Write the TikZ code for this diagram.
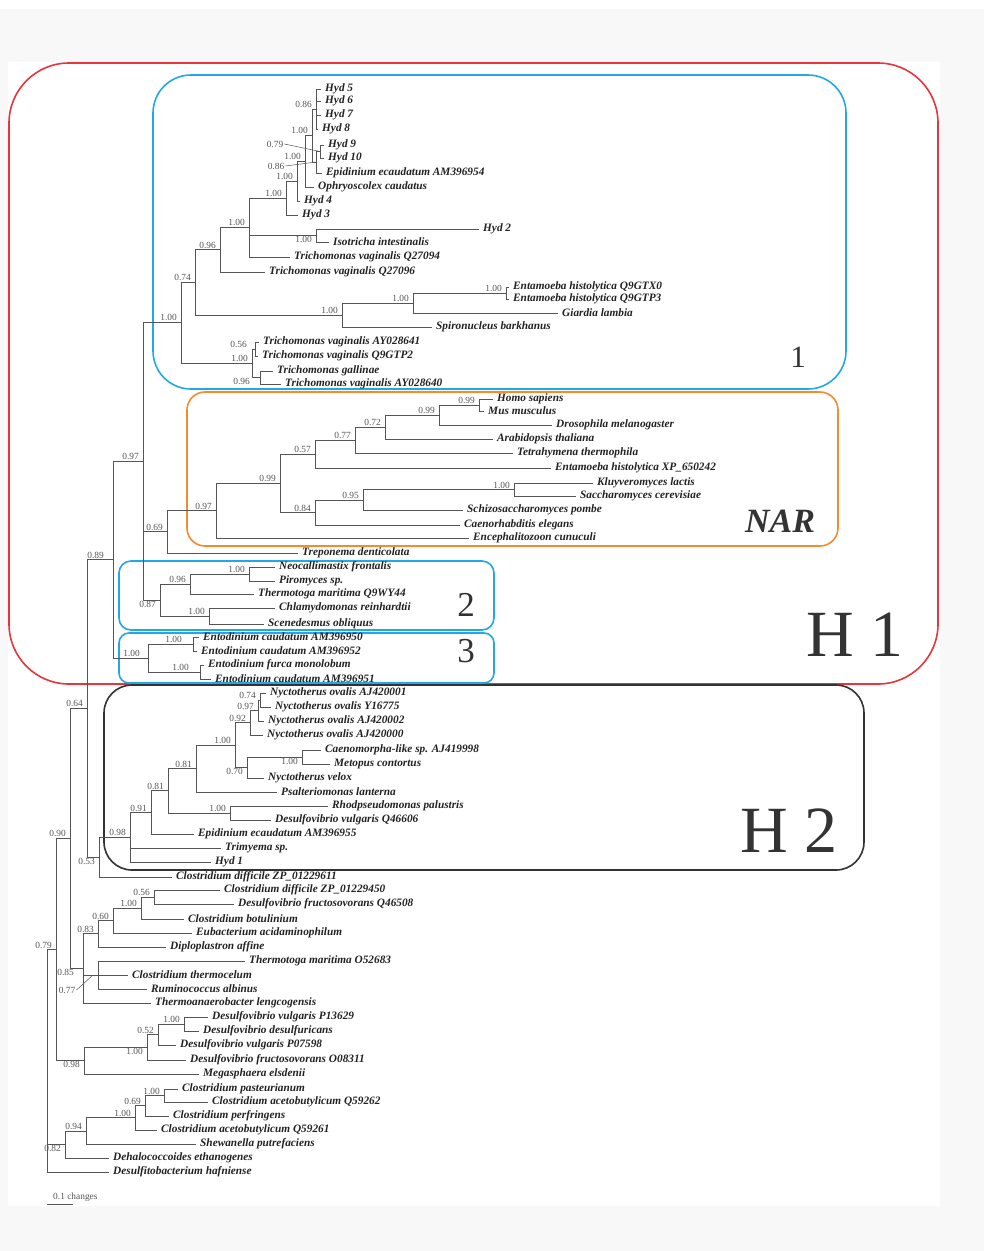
\documentclass[tikz,border=0pt]{standalone}
\usepackage{fontspec}
\setmainfont{Liberation Serif}
\usepackage{xcolor}
\usepackage{tikz}
\usetikzlibrary{positioning}

\definecolor{pagegray}{HTML}{F9F8F8}
\definecolor{branchgray}{HTML}{555555}
\definecolor{leafink}{HTML}{222222}
\definecolor{hred}{HTML}{E8343C}
\definecolor{hblue}{HTML}{22A8E2}
\definecolor{horange}{HTML}{F58A2E}
\definecolor{hdark}{HTML}{333333}

\begin{document}
\begin{tikzpicture}[x=1pt, y=-1pt,
    br/.style={draw=branchgray, line width=1pt},
    leaf/.style={anchor=west, inner xsep=4pt, inner ysep=0pt, text=leafink, font=\fontsize{11.3}{12}\selectfont\bfseries\itshape},
    sup/.style={inner sep=1pt, xshift=-3pt, text=branchgray, font=\fontsize{9.4}{10}\selectfont},
    lead/.style={draw=branchgray, line width=0.5pt},
    clade/.style={line width=1.6pt},
    cladelabel/.style={inner sep=0pt, text=hdark}]

    \useasboundingbox (0,0) rectangle (984,1251);

    % Page
    \fill[white] (0,0) rectangle (984,9);
    \fill[pagegray] (0,9) rectangle (984,1251);
    \fill[white] (8,62) rectangle (940,1206);

    % Clade boxes
    \draw[clade, hred, rounded corners=60pt] (9,63) rectangle (938,684);
    \draw[clade, hblue, rounded corners=38pt] (153,75) rectangle (846,389);
    \draw[clade, horange, rounded corners=18pt] (187,392) rectangle (838,546);
    \draw[clade, hblue, rounded corners=12pt] (119,561) rectangle (494,630);
    \draw[clade, hblue, rounded corners=10pt] (119,633) rectangle (494,683);
    \draw[clade, hdark, rounded corners=28pt] (104,685) rectangle (864,870);

    \node[cladelabel, font=\fontsize{31}{31}\selectfont] (lab1) at (798,357) {1};
    \node[cladelabel, font=\fontsize{34}{34}\selectfont\bfseries\itshape] (labNAR) at (780,521) {NAR};
    \node[cladelabel, font=\fontsize{66}{66}\selectfont] (labH1) at (855,635) {H 1};
    \node[cladelabel, font=\fontsize{35}{35}\selectfont] (lab2) at (466,605) {2};
    \node[cladelabel, font=\fontsize{35}{35}\selectfont] (lab3) at (466,651) {3};
    \node[cladelabel, font=\fontsize{66}{66}\selectfont] (labH2) at (789,831) {H 2};

    % Clade 1
    \node[leaf] (h5) at (321,89) {Hyd 5};
    \node[leaf] (h6) at (321,101) {Hyd 6};
    \node[leaf] (h7) at (321,115) {Hyd 7};
    \node[leaf] (h8) at (318,129) {Hyd 8};
    \node[leaf] (h9) at (324,145) {Hyd 9};
    \node[leaf] (h10) at (324,158) {Hyd 10};
    \node[leaf] (epiA) at (322,173) {Epidinium ecaudatum AM396954};
    \node[leaf] (oph) at (314,187) {Ophryoscolex caudatus};
    \node[leaf] (h4) at (300,201) {Hyd 4};
    \node[leaf] (h3) at (298,215) {Hyd 3};
    \node[leaf] (h2) at (479,229) {Hyd 2};
    \node[leaf] (iso) at (329,242) {Isotricha intestinalis};
    \node[leaf] (tvA) at (290,257) {Trichomonas vaginalis Q27094};
    \node[leaf] (tvB) at (265,272) {Trichomonas vaginalis Q27096};
    \node[leaf] (ehA) at (509,287) {Entamoeba histolytica Q9GTX0};
    \node[leaf] (ehB) at (509,299) {Entamoeba histolytica Q9GTP3};
    \node[leaf] (gia) at (558,313) {Giardia lambia};
    \node[leaf] (spi) at (432,327) {Spironucleus barkhanus};
    \node[leaf] (tvC) at (259,342) {Trichomonas vaginalis AY028641};
    \node[leaf] (tvD) at (258,356) {Trichomonas vaginalis Q9GTP2};
    \node[leaf] (tgal) at (273,371) {Trichomonas gallinae};
    \node[leaf] (tvE) at (281,384) {Trichomonas vaginalis AY028640};

    \coordinate (c58) at (316,109);
    \coordinate (c910) at (320,151.5);
    \coordinate (cEp) at (316,162);
    \coordinate (nA) at (312,135);
    \coordinate (nB) at (305,161);
    \coordinate (nC) at (297,181);
    \coordinate (nD) at (286,198);
    \coordinate (cH2) at (316,235.5);
    \coordinate (nE) at (249,227);
    \coordinate (nF) at (220,249.5);
    \coordinate (cEh) at (506,293);
    \coordinate (nI) at (413,303);
    \coordinate (nH) at (342,315);
    \coordinate (nG) at (195,282);
    \coordinate (nM) at (255,349);
    \coordinate (nN) at (260,377.5);
    \coordinate (nL) at (252,363);
    \coordinate (nK) at (181,322);

    \draw[br] (c58) |- (h5) (c58) |- (h6) (c58) |- (h7) (c58) |- (h8);
    \draw[br] (c910) |- (h9) (c910) |- (h10);
    \draw[br] (cEp) |- (c910) (cEp) |- (epiA);
    \draw[br] (nA) |- (c58) (nA) |- (cEp);
    \draw[br] (nB) |- (nA) (nB) |- (oph);
    \draw[br] (nC) |- (nB) (nC) |- (h4);
    \draw[br] (nD) |- (nC) (nD) |- (h3);
    \draw[br] (cH2) |- (h2) (cH2) |- (iso);
    \draw[br] (nE) |- (nD) (nE) |- (cH2) (nE) |- (tvA);
    \draw[br] (nF) |- (nE) (nF) |- (tvB);
    \draw[br] (cEh) |- (ehA) (cEh) |- (ehB);
    \draw[br] (nI) |- (cEh) (nI) |- (gia);
    \draw[br] (nH) |- (nI) (nH) |- (spi);
    \draw[br] (nG) |- (nF) (nG) |- (nH);
    \draw[br] (nM) |- (tvC) (nM) |- (tvD);
    \draw[br] (nN) |- (tgal) (nN) |- (tvE);
    \draw[br] (nL) |- (nM) (nL) |- (nN);
    \draw[br] (nK) |- (nG) (nK) |- (nL);

    \node[sup, above left] (s58) at (c58) {0.86};
    \node[sup] (s910) at (278,144) {0.79};
    \node[sup] (sEp) at (279,166) {0.86};
    \draw[lead] (s910.east) -- (c910);
    \draw[lead] (sEp.east) -- (cEp);
    \node[sup, above left] (sA) at (nA) {1.00};
    \node[sup, above left] (sB) at (nB) {1.00};
    \node[sup, above left] (sC) at (nC) {1.00};
    \node[sup, above left] (sD) at (nD) {1.00};
    \node[sup, below left] (sH2) at (cH2) {1.00};
    \node[sup, above left] (sE) at (nE) {1.00};
    \node[sup, above left] (sF) at (nF) {0.96};
    \node[sup, above left] (sEh) at (cEh) {1.00};
    \node[sup, above left] (sI) at (nI) {1.00};
    \node[sup, above left] (sH) at (nH) {1.00};
    \node[sup, above left] (sG) at (nG) {0.74};
    \node[sup, above left, xshift=-4pt] (sM) at (nM) {0.56};
    \node[sup, below left, xshift=-6pt] (sN) at (nN) {0.96};
    \node[sup, above left] (sL) at (nL) {1.00};
    \node[sup, above left] (sK) at (nK) {1.00};

    % NAR
    \node[leaf] (homo) at (493,399) {Homo sapiens};
    \node[leaf] (mus) at (484,411) {Mus musculus};
    \node[leaf] (dro) at (552,425) {Drosophila melanogaster};
    \node[leaf] (ara) at (493,439) {Arabidopsis thaliana};
    \node[leaf] (tet) at (513,453) {Tetrahymena thermophila};
    \node[leaf] (ehC) at (551,468) {Entamoeba histolytica XP\_650242};
    \node[leaf] (klu) at (593,483) {Kluyveromyces lactis};
    \node[leaf] (sac) at (576,496) {Saccharomyces cerevisiae};
    \node[leaf] (sch) at (463,510) {Schizosaccharomyces pombe};
    \node[leaf] (cae) at (460,525) {Caenorhabditis elegans};
    \node[leaf] (enc) at (469,538) {Encephalitozoon cunuculi};
    \node[leaf] (tre) at (298,553) {Treponema denticolata};

    \coordinate (cHM) at (479,405);
    \coordinate (cHMD) at (439,415);
    \coordinate (c72) at (385,427);
    \coordinate (c77) at (355,440);
    \coordinate (c57) at (315,454);
    \coordinate (cKS) at (514,489.5);
    \coordinate (c95) at (363,500);
    \coordinate (c84) at (315,512.5);
    \coordinate (c99) at (280,483);
    \coordinate (c97) at (216,510.5);
    \coordinate (nQ) at (167,531.5);

    \draw[br] (cHM) |- (homo) (cHM) |- (mus);
    \draw[br] (cHMD) |- (cHM) (cHMD) |- (dro);
    \draw[br] (c72) |- (cHMD) (c72) |- (ara);
    \draw[br] (c77) |- (c72) (c77) |- (tet);
    \draw[br] (c57) |- (c77) (c57) |- (ehC);
    \draw[br] (cKS) |- (klu) (cKS) |- (sac);
    \draw[br] (c95) |- (cKS) (c95) |- (sch);
    \draw[br] (c84) |- (c95) (c84) |- (cae);
    \draw[br] (c99) |- (c57) (c99) |- (c84);
    \draw[br] (c97) |- (c99) (c97) |- (enc);
    \draw[br] (nQ) |- (c97) (nQ) |- (tre);

    \node[sup, above left] (sHM) at (cHM) {0.99};
    \node[sup, above left] (sHMD) at (cHMD) {0.99};
    \node[sup, above left] (s72) at (c72) {0.72};
    \node[sup, above left] (s77) at (c77) {0.77};
    \node[sup, above left] (s57) at (c57) {0.57};
    \node[sup, above left] (sKS) at (cKS) {1.00};
    \node[sup, above left] (s95) at (c95) {0.95};
    \node[sup, above left] (s84) at (c84) {0.84};
    \node[sup, above left] (s99) at (c99) {0.99};
    \node[sup, above left] (s97) at (c97) {0.97};
    \node[sup, above left] (sQ) at (nQ) {0.69};

    % Clade 2
    \node[leaf] (neo) at (275,567) {Neocallimastix frontalis};
    \node[leaf] (pir) at (275,581) {Piromyces sp.};
    \node[leaf] (tmA) at (254,594) {Thermotoga maritima Q9WY44};
    \node[leaf] (chl) at (275,608) {Chlamydomonas reinhardtii};
    \node[leaf] (sce) at (264,624) {Scenedesmus obliquus};

    \coordinate (c2NP) at (249,574);
    \coordinate (c296) at (190,584);
    \coordinate (c2CS) at (209,616);
    \coordinate (nR) at (160,600);

    \draw[br] (c2NP) |- (neo) (c2NP) |- (pir);
    \draw[br] (c296) |- (c2NP) (c296) |- (tmA);
    \draw[br] (c2CS) |- (chl) (c2CS) |- (sce);
    \draw[br] (nR) |- (c296) (nR) |- (c2CS);

    \node[sup, above left] (s2NP) at (c2NP) {1.00};
    \node[sup, above left] (s296) at (c296) {0.96};
    \node[sup, above left] (s2CS) at (c2CS) {1.00};
    \node[sup, below left] (sR) at (nR) {0.87};

    % Clade 3
    \node[leaf] (ecA) at (199,637) {Entodinium caudatum AM396950};
    \node[leaf] (ecB) at (197,651) {Entodinium caudatum AM396952};
    \node[leaf] (efm) at (204,665) {Entodinium furca monolobum};
    \node[leaf] (ecC) at (211,679) {Entodinium caudatum AM396951};

    \coordinate (c3a) at (193,644);
    \coordinate (c3b) at (200,672);
    \coordinate (n3) at (148,658);

    \draw[br] (c3a) |- (ecA) (c3a) |- (ecB);
    \draw[br] (c3b) |- (efm) (c3b) |- (ecC);
    \draw[br] (n3) |- (c3a) (n3) |- (c3b);

    \node[sup, above left, xshift=-7pt] (s3a) at (c3a) {1.00};
    \node[sup, above left, xshift=-7pt] (s3b) at (c3b) {1.00};
    \node[sup, above left, xshift=-4pt] (s3) at (n3) {1.00};

    % Backbone of H1
    \coordinate (nP) at (143,461);
    \coordinate (nS) at (113,559.5);

    \draw[br] (nP) |- (nK) (nP) |- (nQ) (nP) |- (nR);
    \draw[br] (nS) |- (nP) (nS) |- (n3);

    \node[sup, above left] (sP) at (nP) {0.97};
    \node[sup, above left, xshift=-5pt] (sS) at (nS) {0.89};

    % H2
    \node[leaf] (noA) at (266,693) {Nyctotherus ovalis AJ420001};
    \node[leaf] (noB) at (271,707) {Nyctotherus ovalis Y16775};
    \node[leaf] (noC) at (264,721) {Nyctotherus ovalis AJ420002};
    \node[leaf] (noD) at (263,735) {Nyctotherus ovalis AJ420000};
    \node[leaf] (cml) at (321,750) {Caenomorpha-like sp. AJ419998};
    \node[leaf] (met) at (330,764) {Metopus contortus};
    \node[leaf] (nve) at (264,778) {Nyctotherus velox};
    \node[leaf] (psa) at (277,792) {Psalteriomonas lanterna};
    \node[leaf] (rho) at (328,806) {Rhodpseudomonas palustris};
    \node[leaf] (dvA) at (271,820) {Desulfovibrio vulgaris Q46606};
    \node[leaf] (epiB) at (194,834) {Epidinium ecaudatum AM396955};
    \node[leaf] (tri) at (221,848) {Trimyema sp.};
    \node[leaf] (hyd1) at (211,862) {Hyd 1};
    \node[leaf] (cdA) at (172,877) {Clostridium difficile ZP\_01229611};

    \coordinate (c74) at (260,700);
    \coordinate (c97b) at (258,710.5);
    \coordinate (c92) at (250,722.75);
    \coordinate (cCM) at (302,757);
    \coordinate (c70) at (247,767.5);
    \coordinate (c100h) at (235,745);
    \coordinate (c81a) at (196,768.5);
    \coordinate (cRD) at (230,813);
    \coordinate (c81b) at (168,790.75);
    \coordinate (c91) at (151,812.4);
    \coordinate (h0) at (130,837);
    \coordinate (nU) at (99,857);
    \coordinate (nT) at (87,708.25);

    \draw[br] (c74) |- (noA) (c74) |- (noB);
    \draw[br] (c97b) |- (c74) (c97b) |- (noC);
    \draw[br] (c92) |- (c97b) (c92) |- (noD);
    \draw[br] (cCM) |- (cml) (cCM) |- (met);
    \draw[br] (c70) |- (cCM) (c70) |- (nve);
    \draw[br] (c100h) |- (c92) (c100h) |- (c70);
    \draw[br] (c81a) |- (c100h) (c81a) |- (psa);
    \draw[br] (cRD) |- (rho) (cRD) |- (dvA);
    \draw[br] (c81b) |- (c81a) (c81b) |- (cRD);
    \draw[br] (c91) |- (c81b) (c91) |- (epiB);
    \draw[br] (h0) |- (c91) (h0) |- (tri) (h0) |- (hyd1);
    \draw[br] (nU) |- (h0) (nU) |- (cdA);
    \draw[br] (nT) |- (nS) (nT) |- (nU);

    \node[sup, above left] (s74) at (c74) {0.74};
    \node[sup, above left] (s97b) at (c97b) {0.97};
    \node[sup, above left] (s92) at (c92) {0.92};
    \node[sup, below left] (sCM) at (cCM) {1.00};
    \node[sup, below left] (s70) at (c70) {0.70};
    \node[sup, above left] (s100h) at (c100h) {1.00};
    \node[sup, above left] (s81a) at (c81a) {0.81};
    \node[sup, above left] (sRD) at (cRD) {1.00};
    \node[sup, above left] (s81b) at (c81b) {0.81};
    \node[sup, above left] (s91) at (c91) {0.91};
    \node[sup, above left] (sh0) at (h0) {0.98};
    \node[sup, below left] (sU) at (nU) {0.53};
    \node[sup, above left] (sT) at (nT) {0.64};

    % Outgroups
    \node[leaf] (cdB) at (220,890) {Clostridium difficile ZP\_01229450};
    \node[leaf] (dfA) at (234,904) {Desulfovibrio fructosovorans Q46508};
    \node[leaf] (cbo) at (184,919) {Clostridium botulinium};
    \node[leaf] (eub) at (192,933) {Eubacterium acidaminophilum};
    \node[leaf] (dip) at (166,947) {Diploplastron affine};
    \node[leaf] (tmB) at (245,961) {Thermotoga maritima O52683};
    \node[leaf] (cth) at (128,975) {Clostridium thermocelum};
    \node[leaf] (rum) at (147,989) {Ruminococcus albinus};
    \node[leaf] (tha) at (151,1003) {Thermoanaerobacter lengcogensis};
    \node[leaf] (dvB) at (208,1017) {Desulfovibrio vulgaris P13629};
    \node[leaf] (dde) at (199,1031) {Desulfovibrio desulfuricans};
    \node[leaf] (dvC) at (176,1045) {Desulfovibrio vulgaris P07598};
    \node[leaf] (dfB) at (186,1060) {Desulfovibrio fructosovorans O08311};
    \node[leaf] (meg) at (199,1074) {Megasphaera elsdenii};
    \node[leaf] (cpa) at (178,1089) {Clostridium pasteurianum};
    \node[leaf] (caA) at (208,1102) {Clostridium acetobutylicum Q59262};
    \node[leaf] (cpe) at (169,1116) {Clostridium perfringens};
    \node[leaf] (caB) at (157,1130) {Clostridium acetobutylicum Q59261};
    \node[leaf] (she) at (196,1144) {Shewanella putrefaciens};
    \node[leaf] (deh) at (109,1158) {Dehalococcoides ethanogenes};
    \node[leaf] (dsf) at (109,1172) {Desulfitobacterium hafniense};

    \coordinate (c56) at (154,897);
    \coordinate (c100a) at (141,908);
    \coordinate (c60) at (113,920.5);
    \coordinate (c83) at (98,933.75);
    \coordinate (c77b) at (98,975);
    \coordinate (c85) at (83,968.4);
    \coordinate (nV) at (70,838.3);
    \coordinate (cDD) at (184,1024);
    \coordinate (c52) at (158,1034.5);
    \coordinate (c100d) at (147,1047);
    \coordinate (c98) at (84,1060.5);
    \coordinate (nW) at (56,949.4);
    \coordinate (cPQ) at (164,1095.5);
    \coordinate (c69) at (145,1105.75);
    \coordinate (c100c) at (135,1117.9);
    \coordinate (c94) at (86,1131);
    \coordinate (c82) at (65,1144.5);
    \coordinate (root) at (47,1060);

    \draw[br] (c56) |- (cdB) (c56) |- (dfA);
    \draw[br] (c100a) |- (c56) (c100a) |- (cbo);
    \draw[br] (c60) |- (c100a) (c60) |- (eub);
    \draw[br] (c83) |- (c60) (c83) |- (dip);
    \draw[br] (c77b) |- (tmB) (c77b) |- (cth) (c77b) |- (rum);
    \draw[br] (c85) |- (c83) (c85) |- (c77b) (c85) |- (tha);
    \draw[br] (nV) |- (nT) (nV) |- (c85);
    \draw[br] (cDD) |- (dvB) (cDD) |- (dde);
    \draw[br] (c52) |- (cDD) (c52) |- (dvC);
    \draw[br] (c100d) |- (c52) (c100d) |- (dfB);
    \draw[br] (c98) |- (c100d) (c98) |- (meg);
    \draw[br] (nW) |- (nV) (nW) |- (c98);
    \draw[br] (cPQ) |- (cpa) (cPQ) |- (caA);
    \draw[br] (c69) |- (cPQ) (c69) |- (cpe);
    \draw[br] (c100c) |- (c69) (c100c) |- (caB);
    \draw[br] (c94) |- (c100c) (c94) |- (she);
    \draw[br] (c82) |- (c94) (c82) |- (deh);
    \draw[br] (root) |- (nW) (root) |- (c82) (root) |- (dsf);

    \node[sup, above left] (s56) at (c56) {0.56};
    \node[sup, above left] (s100a) at (c100a) {1.00};
    \node[sup, above left] (s60) at (c60) {0.60};
    \node[sup, above left] (s83) at (c83) {0.83};
    \node[sup, below left, xshift=-5pt] (s85) at (c85) {0.85};
    \node[sup] (s77b) at (70,990) {0.77};
    \draw[lead] (s77b.east) -- ([xshift=-5pt]c77b);
    \node[sup, above left] (sV) at (nV) {0.90};
    \node[sup, above left] (sDD) at (cDD) {1.00};
    \node[sup, above left] (s52) at (c52) {0.52};
    \node[sup, below left] (s100d) at (c100d) {1.00};
    \node[sup, below left] (s98) at (c98) {0.98};
    \node[sup, above left] (sW) at (nW) {0.79};
    \node[sup, above left] (sPQ) at (cPQ) {1.00};
    \node[sup, above left] (s69) at (c69) {0.69};
    \node[sup, above left] (s100c) at (c100c) {1.00};
    \node[sup, above left] (s94) at (c94) {0.94};
    \node[sup, below left] (s82) at (c82) {0.82};

    % Scale bar
    \coordinate (bar0) at (47,1204);
    \coordinate (bar1) at (73,1204);
    \draw[br] (bar0) -- (bar1);
    \node[sup, anchor=south west, xshift=3pt] (barlab) at (52,1203) {0.1 changes};

\end{tikzpicture}
\end{document}
